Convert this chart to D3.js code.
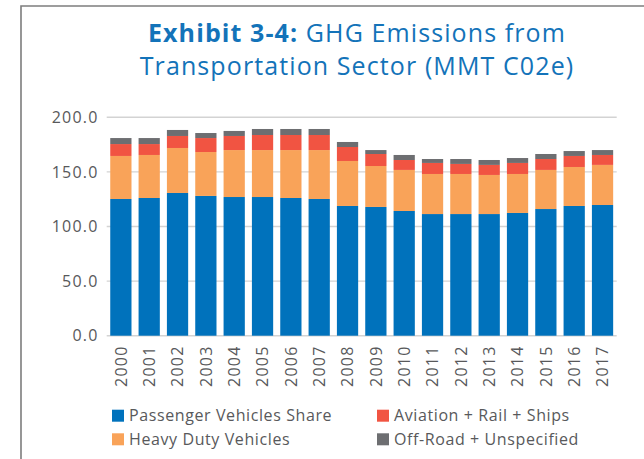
<!DOCTYPE html>
<html>
<head>
<meta charset="utf-8">
<script src="https://cdn.jsdelivr.net/npm/d3@7"></script>
<style>
  html, body { margin: 0; padding: 0; background: #fff; }
  svg { display: block; }
  text { font-family: "Open Sans", "DejaVu Sans", sans-serif; }
</style>
</head>
<body>
<svg id="chart" width="644" height="459"></svg>
<script>
const years = ["2000","2001","2002","2003","2004","2005","2006","2007","2008","2009","2010","2011","2012","2013","2014","2015","2016","2017"];
const passenger = [125.2,126.1,130.7,128.0,127.0,127.0,126.1,125.2,118.8,117.9,114.2,111.4,111.4,111.4,112.4,116.0,118.8,119.7];
const heavyDuty = [39.4,39.4,41.2,40.2,43.0,43.0,43.9,44.8,41.2,37.5,37.6,36.7,36.7,35.8,35.7,35.8,35.7,36.7];
const aviation  = [10.9,10.0,11.0,12.8,12.9,13.8,13.8,13.8,12.8,11.0,9.1,10.1,9.2,9.2,10.1,10.0,10.1,9.1];
const offRoad   = [5.5,5.5,5.5,4.6,4.6,5.5,5.5,5.5,4.6,3.6,4.6,3.6,4.5,4.5,4.5,4.6,4.5,4.5];
const yTicks = [0, 50, 100, 150, 200];
const seriesNames = ["Passenger Vehicles Share","Heavy Duty Vehicles","Aviation + Rail + Ships","Off-Road + Unspecified"];
const colors = ["#0072bc","#f9a359","#f15442","#6d6e71"];

const rows = years.map((y, i) => ({
  year: y,
  [seriesNames[0]]: passenger[i],
  [seriesNames[1]]: heavyDuty[i],
  [seriesNames[2]]: aviation[i],
  [seriesNames[3]]: offRoad[i]
}));

const svg = d3.select("#chart");
const textColor = "#58595b";

// frame
svg.append("path")
  .attr("d", "M21,459 V6 H644")
  .attr("fill", "none")
  .attr("stroke", "#7d7d7d")
  .attr("stroke-width", 1.6);

// title
const title = svg.append("text")
  .attr("text-anchor", "middle")
  .attr("fill", "#1373b9")
  .style("font-size", "25px")
  .style("letter-spacing", "1.1px");
const l1 = title.append("tspan").attr("x", 357).attr("y", 42);
l1.append("tspan").attr("font-weight", "bold").text("Exhibit 3-4:");
l1.append("tspan").text(" GHG Emissions from");
title.append("tspan").attr("x", 357).attr("y", 75).text("Transportation Sector (MMT C02e)");

const y = d3.scaleLinear().domain([0, 200]).range([335.7, 117.3]);
const x = d3.scaleBand().domain(years).range([106.7, 616.7]).paddingInner(0.25).paddingOuter(0.125);

// gridlines
svg.append("g").selectAll("line").data(yTicks).join("line")
  .attr("x1", 106.7).attr("x2", 616.7)
  .attr("y1", d => y(d)).attr("y2", d => y(d))
  .attr("stroke", "#d3d3d3").attr("stroke-width", 1.4);

// y labels
svg.append("g").selectAll("text").data(yTicks).join("text")
  .attr("x", 98.5).attr("y", d => y(d)).attr("dy", "0.36em")
  .attr("text-anchor", "end")
  .attr("fill", textColor)
  .attr("font-weight", 500)
  .style("font-size", "16px")
  .style("letter-spacing", "1.2px")
  .text(d => d.toFixed(1));

// bars
const stack = d3.stack().keys(seriesNames)(rows);
svg.append("g").selectAll("g").data(stack).join("g")
  .attr("fill", (d, i) => colors[i])
  .selectAll("rect").data(d => d).join("rect")
  .attr("x", d => x(d.data.year))
  .attr("width", x.bandwidth())
  .attr("y", d => y(d[1]))
  .attr("height", d => y(d[0]) - y(d[1]));

// x labels
svg.append("g").selectAll("text").data(years).join("text")
  .attr("transform", d => `translate(${x(d) + x.bandwidth() / 2},345.5) rotate(-90)`)
  .attr("text-anchor", "end")
  .attr("dy", "0.36em")
  .attr("fill", textColor)
  .attr("font-weight", 500)
  .style("font-size", "16px")
  .style("letter-spacing", "1.2px")
  .text(d => d);

// legend
const legendPos = [[112, 415.7],[112, 439.3],[377, 415.7],[377, 439.3]];
const lg = svg.append("g").selectAll("g").data(seriesNames).join("g")
  .attr("transform", (d, i) => `translate(${legendPos[i][0]},${legendPos[i][1]})`);
lg.append("rect").attr("x", 0).attr("y", -6).attr("width", 12).attr("height", 12)
  .attr("fill", (d, i) => colors[i]);
lg.append("text").attr("x", 17).attr("dy", "0.36em")
  .attr("fill", textColor)
  .attr("font-weight", 500)
  .style("font-size", "16px")
  .style("letter-spacing", "0.6px")
  .text(d => d);
</script>
</body>
</html>
